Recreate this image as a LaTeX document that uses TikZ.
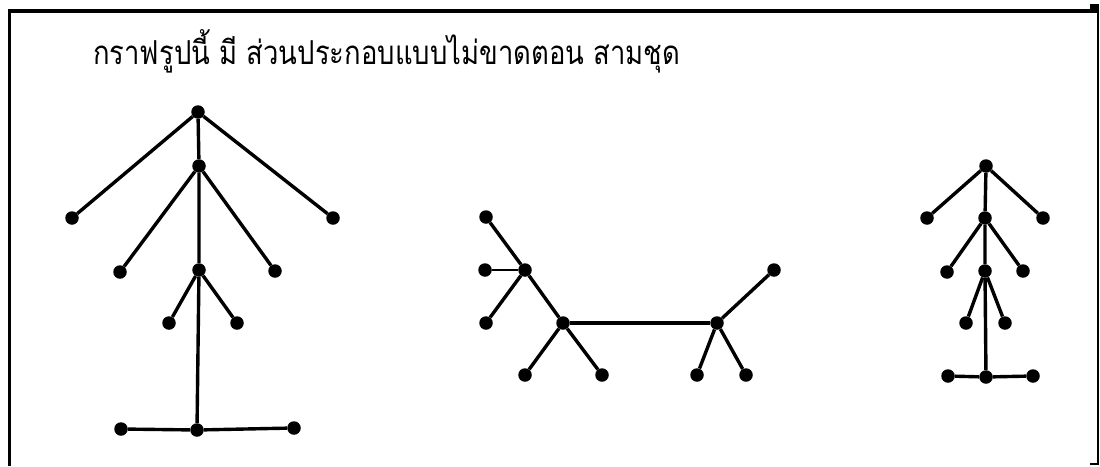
\documentclass[tikz,border=0pt]{standalone}
\usepackage{fontspec}
\usepackage{graphicx}
\newfontfamily\thaifont[Script=Thai]{Loma}
\begin{document}
\begin{tikzpicture}[x=1pt,y=-1pt,
  dot/.style={circle,fill=black,inner sep=0pt,minimum size=13.5pt},
  edge/.style={line width=3.4pt},
  thinedge/.style={line width=1.8pt},
  frame/.style={line width=3.4pt}]
\useasboundingbox (0,0) rectangle (1100,466);
% frame
\coordinate (ftl) at (8,11);
\coordinate (ftr) at (1099,11);
\coordinate (fbl) at (9.5,466);
\coordinate (frt) at (1098,11);
\coordinate (frb) at (1098,464);
\coordinate (fbh) at (1090,464);
\draw[frame] (ftl) -- (ftr);
\draw[frame] (9.5,11) -- (fbl);
\draw[line width=1.4pt] (frt) -- (frb) -- (fbh);
\fill (1090,4) rectangle (1099,9);
% title
\node[anchor=base west,inner sep=0pt] (title) at (93,64)
  {\resizebox{587pt}{\height}{\thaifont\fontsize{33pt}{36pt}\selectfont กราฟรูปนี้ มี ส่วนประกอบแบบไม่ขาดตอน สามชุด}};
% graph 1
\node[dot] (a1) at (198,112) {};
\node[dot] (a2) at (199,166) {};
\node[dot] (a3) at (199,270) {};
\node[dot] (a4) at (197,430) {};
\node[dot] (al1) at (72,218) {};
\node[dot] (ar1) at (333,218) {};
\node[dot] (al2) at (120,272) {};
\node[dot] (ar2) at (275,271) {};
\node[dot] (al3) at (169,323) {};
\node[dot] (ar3) at (237,323) {};
\node[dot] (al4) at (121,429) {};
\node[dot] (ar4) at (294,428) {};
\draw[edge] (a1) -- (a2) -- (a3) -- (a4);
\draw[edge] (a1) -- (al1);
\draw[edge] (a1) -- (ar1);
\draw[edge] (a2) -- (al2);
\draw[edge] (a2) -- (ar2);
\draw[edge] (a3) -- (al3);
\draw[edge] (a3) -- (ar3);
\draw[edge] (a4) -- (al4);
\draw[edge] (a4) -- (ar4);
% graph 2
\node[dot] (b1) at (486,217) {};
\node[dot] (bq) at (525,270) {};
\node[dot] (b2) at (485,270) {};
\node[dot] (b3) at (486,323) {};
\node[dot] (br) at (563,323) {};
\node[dot] (br1) at (525,375) {};
\node[dot] (br2) at (602,375) {};
\node[dot] (bs) at (717,323) {};
\node[dot] (bs1) at (774,270) {};
\node[dot] (bs2) at (697,375) {};
\node[dot] (bs3) at (746,375) {};
\draw[edge] (b1) -- (bq) -- (br);
\draw[thinedge] (b2) -- (bq);
\draw[edge] (bq) -- (b3);
\draw[edge] (br) -- (bs);
\draw[edge] (br) -- (br1);
\draw[edge] (br) -- (br2);
\draw[edge] (bs) -- (bs1);
\draw[edge] (bs) -- (bs2);
\draw[edge] (bs) -- (bs3);
% graph 3
\node[dot] (c1) at (986,166) {};
\node[dot] (c2) at (985,218) {};
\node[dot] (c3) at (985,271) {};
\node[dot] (c4) at (986,377) {};
\node[dot] (cl1) at (927,218) {};
\node[dot] (cr1) at (1043,218) {};
\node[dot] (cl2) at (947,272) {};
\node[dot] (cr2) at (1023,271) {};
\node[dot] (cl3) at (966,323) {};
\node[dot] (cr3) at (1005,323) {};
\node[dot] (cl4) at (948,376) {};
\node[dot] (cr4) at (1033,376) {};
\draw[edge] (c1) -- (c2) -- (c3) -- (c4);
\draw[edge] (c1) -- (cl1);
\draw[edge] (c1) -- (cr1);
\draw[edge] (c2) -- (cl2);
\draw[edge] (c2) -- (cr2);
\draw[edge] (c3) -- (cl3);
\draw[edge] (c3) -- (cr3);
\draw[edge] (c4) -- (cl4);
\draw[edge] (c4) -- (cr4);
\end{tikzpicture}
\end{document}
